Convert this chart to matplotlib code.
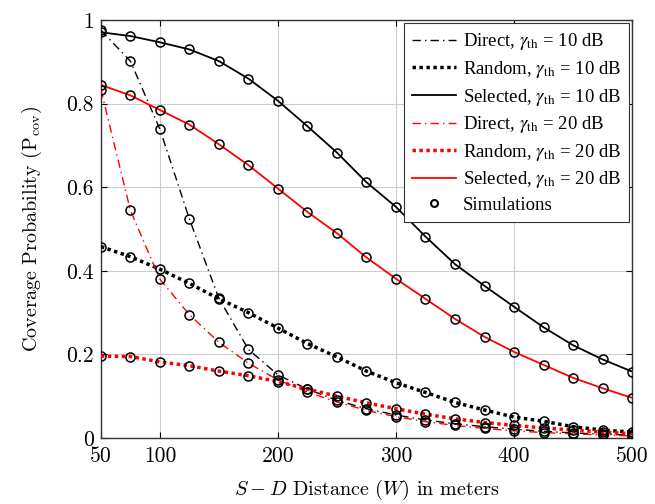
import numpy as np
import matplotlib
matplotlib.use('Agg')
import matplotlib.pyplot as plt

# distancias S-D (m)
distancia = [50, 75, 100, 125, 150, 175, 200, 225, 250, 275, 300,
             325, 350, 375, 400, 425, 450, 475, 500]

# gamma_th = 10 dB
direto_10 = [0.976, 0.902, 0.739, 0.524, 0.334, 0.212, 0.151, 0.117, 0.090, 0.070, 0.055,
             0.043, 0.034, 0.027, 0.021, 0.016, 0.012, 0.009, 0.007]
aleatorio_10 = [0.458, 0.434, 0.404, 0.370, 0.333, 0.300, 0.263, 0.226, 0.194, 0.160, 0.132,
                0.109, 0.085, 0.067, 0.050, 0.040, 0.027, 0.019, 0.014]
selecionado_10 = [0.971, 0.962, 0.947, 0.930, 0.902, 0.860, 0.807, 0.746, 0.683, 0.612, 0.553,
                  0.482, 0.416, 0.364, 0.314, 0.265, 0.222, 0.188, 0.159]

# gamma_th = 20 dB
direto_20 = [0.834, 0.545, 0.380, 0.295, 0.229, 0.179, 0.139, 0.110, 0.086, 0.066, 0.051,
             0.039, 0.030, 0.023, 0.017, 0.013, 0.010, 0.007, 0.005]
aleatorio_20 = [0.196, 0.195, 0.182, 0.173, 0.160, 0.149, 0.135, 0.117, 0.100, 0.084, 0.070,
                0.057, 0.046, 0.037, 0.030, 0.024, 0.019, 0.014, 0.010]
selecionado_20 = [0.845, 0.820, 0.785, 0.750, 0.703, 0.653, 0.597, 0.541, 0.490, 0.432, 0.381,
                  0.333, 0.285, 0.242, 0.206, 0.175, 0.144, 0.119, 0.096]

xticks = [50, 100, 200, 300, 400, 500]
yticks = [0, 0.2, 0.4, 0.6, 0.8, 1]
ytick_labels = ['0', '0.2', '0.4', '0.6', '0.8', '1']

series = [
    (direto_10, 'k', 'dashdot', r'Direct, $\gamma_{\rm th}$ = 10 dB'),
    (aleatorio_10, 'k', 'dotted', r'Random, $\gamma_{\rm th}$ = 10 dB'),
    (selecionado_10, 'k', 'solid', r'Selected, $\gamma_{\rm th}$ = 10 dB'),
    (direto_20, 'r', 'dashdot', r'Direct, $\gamma_{\rm th}$ = 20 dB'),
    (aleatorio_20, 'r', 'dotted', r'Random, $\gamma_{\rm th}$ = 20 dB'),
    (selecionado_20, 'r', 'solid', r'Selected, $\gamma_{\rm th}$ = 20 dB'),
]

estilos = {
    'dashdot': dict(linestyle=(0, (6, 3, 1, 3)), linewidth=1.0),
    'dotted': dict(linestyle=(0, (1, 1)), linewidth=2.5, dash_capstyle='butt'),
    'solid': dict(linestyle='-', linewidth=1.3),
}

fig = plt.figure(figsize=(6.55, 5.04), dpi=100)
ax = fig.add_axes([0.154, 0.131, 0.811, 0.829])

for valores, cor, estilo, rotulo in series:
    ax.plot(distancia, valores, color=cor, label=rotulo, zorder=3, **estilos[estilo])

# simulacoes
for valores, cor, estilo, rotulo in series:
    ax.plot(distancia, valores, linestyle='none', marker='o', markersize=6.5,
            markerfacecolor='none', markeredgecolor='k', markeredgewidth=1.1, zorder=4)
ax.plot([], [], linestyle='none', marker='o', markersize=5, markerfacecolor='none',
        markeredgecolor='k', markeredgewidth=1.5, label='Simulations')

ax.set_xlim(50, 500)
ax.set_ylim(0, 1)
ax.set_xticks(xticks)
ax.set_xticklabels([str(v) for v in xticks], fontfamily='cmr10', fontsize=15.5)
ax.set_yticks(yticks)
ax.set_yticklabels(ytick_labels, fontfamily='cmr10', fontsize=15.5)
ax.tick_params(direction='in', top=True, right=True, length=4, width=0.8)
ax.tick_params(axis='x', pad=6)
ax.tick_params(axis='y', pad=5)
ax.grid(True, color='#cccccc', linewidth=0.8)
ax.set_axisbelow(True)
for s in ax.spines.values():
    s.set_color('#333333')
    s.set_linewidth(1.0)

ax.set_xlabel(r'$S - D$ Distance ($W$) in meters', fontfamily='cmr10', fontsize=14.5,
              math_fontfamily='cm', labelpad=9)
ax.set_ylabel(r'Coverage Probability ($\mathrm{P}_{\mathrm{cov}}$)', fontfamily='cmr10',
              fontsize=14.5, math_fontfamily='cm', labelpad=16)

leg = ax.legend(loc='upper right', fancybox=False, edgecolor='#333333', framealpha=1,
                prop={'family': 'Liberation Serif', 'size': 13.5, 'math_fontfamily': 'stix'},
                handlelength=2.35, labelspacing=0.35, borderaxespad=0.15, borderpad=0.45,
                handletextpad=0.35)
leg.get_frame().set_linewidth(0.8)

fig.savefig('out.png', dpi=100)
